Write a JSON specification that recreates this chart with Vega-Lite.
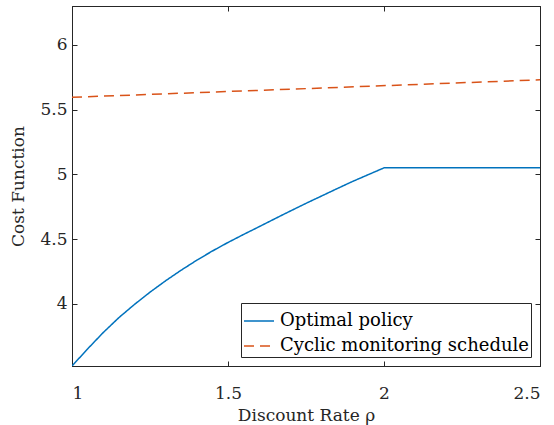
{
  "$schema": "https://vega.github.io/schema/vega-lite/v6.json",
  "width": 468,
  "height": 360,
  "autosize": {"type": "none"},
  "padding": {"left": 72, "top": 6, "right": 14, "bottom": 59},
  "background": "white",
  "config": {
    "view": {"stroke": "#262626", "strokeWidth": 1},
    "font": "DejaVu Serif",
    "axis": {
      "domainColor": "#262626",
      "tickColor": "#262626",
      "grid": false,
      "labelFont": "DejaVu Serif",
      "titleFont": "DejaVu Serif",
      "labelFontSize": 17,
      "titleFontSize": 17,
      "labelColor": "#262626",
      "titleColor": "#262626",
      "titleFontWeight": "normal",
      "tickSize": -5
    },
    "legend": {
      "labelFont": "DejaVu Serif",
      "labelFontSize": 18,
      "labelLimit": 0
    }
  },
  "datasets": {
    "opt": [
      {"rho": 1.0, "cost": 3.52, "series": "Optimal policy"},
      {"rho": 1.05, "cost": 3.652, "series": "Optimal policy"},
      {"rho": 1.1, "cost": 3.778, "series": "Optimal policy"},
      {"rho": 1.15, "cost": 3.893, "series": "Optimal policy"},
      {"rho": 1.2, "cost": 3.995, "series": "Optimal policy"},
      {"rho": 1.25, "cost": 4.09, "series": "Optimal policy"},
      {"rho": 1.3, "cost": 4.178, "series": "Optimal policy"},
      {"rho": 1.35, "cost": 4.26, "series": "Optimal policy"},
      {"rho": 1.4, "cost": 4.337, "series": "Optimal policy"},
      {"rho": 1.45, "cost": 4.408, "series": "Optimal policy"},
      {"rho": 1.5, "cost": 4.474, "series": "Optimal policy"},
      {"rho": 1.55, "cost": 4.536, "series": "Optimal policy"},
      {"rho": 1.6, "cost": 4.596, "series": "Optimal policy"},
      {"rho": 1.65, "cost": 4.657, "series": "Optimal policy"},
      {"rho": 1.7, "cost": 4.717, "series": "Optimal policy"},
      {"rho": 1.75, "cost": 4.776, "series": "Optimal policy"},
      {"rho": 1.8, "cost": 4.833, "series": "Optimal policy"},
      {"rho": 1.85, "cost": 4.89, "series": "Optimal policy"},
      {"rho": 1.9, "cost": 4.946, "series": "Optimal policy"},
      {"rho": 1.95, "cost": 4.998, "series": "Optimal policy"},
      {"rho": 2.0, "cost": 5.05, "series": "Optimal policy"},
      {"rho": 2.5, "cost": 5.05, "series": "Optimal policy"}
    ],
    "cyc": [
      {"rho": 1.0, "cost": 5.595, "series": "Cyclic monitoring schedule"},
      {"rho": 1.75, "cost": 5.662, "series": "Cyclic monitoring schedule"},
      {"rho": 2.5, "cost": 5.73, "series": "Cyclic monitoring schedule"}
    ]
  },
  "layer": [
    {
      "data": {"name": "opt"},
      "mark": {"type": "line", "strokeWidth": 1.5, "clip": true},
      "encoding": {
        "x": {"field": "rho", "type": "quantitative",
              "scale": {"domain": [1, 2.5], "nice": false, "zero": false},
              "axis": {"values": [1, 1.5, 2, 2.5], "labelExpr": "datum.value", "title": "Discount Rate ρ", "labelPadding": 24, "titlePadding": 6}},
        "y": {"field": "cost", "type": "quantitative",
              "scale": {"domain": [3.52, 6.3], "nice": false, "zero": false},
              "axis": {"values": [4, 4.5, 5, 5.5, 6], "labelExpr": "datum.value", "title": "Cost Function", "labelPadding": 10, "titlePadding": 12}},
        "color": {"field": "series", "type": "nominal",
                  "scale": {"domain": ["Optimal policy", "Cyclic monitoring schedule"], "range": ["#0072BD", "#D95319"]},
                  "legend": {"title": null, "orient": "bottom-right", "offset": 9, "symbolType": "stroke", "symbolSize": 900, "symbolStrokeWidth": 1.5,
                             "labelColor": "#000000",
                             "strokeColor": "#262626", "fillColor": "white", "padding": 2, "rowPadding": -4, "labelOffset": 5}},
        "strokeDash": {"field": "series", "type": "nominal",
                       "scale": {"domain": ["Optimal policy", "Cyclic monitoring schedule"], "range": [[1, 0], [10, 6]]},
                       "legend": {"title": null, "orient": "bottom-right", "offset": 9, "symbolType": "stroke", "symbolSize": 900, "symbolStrokeWidth": 1.5,
                             "labelColor": "#000000",
                             "strokeColor": "#262626", "fillColor": "white", "padding": 2, "rowPadding": -4, "labelOffset": 5}}
      }
    },
    {
      "data": {"name": "cyc"},
      "mark": {"type": "line", "strokeWidth": 1.5, "clip": true},
      "encoding": {
        "x": {"field": "rho", "type": "quantitative",
              "axis": {"orient": "top", "values": [1, 1.5, 2, 2.5], "labels": false, "title": null}},
        "y": {"field": "cost", "type": "quantitative",
              "axis": {"orient": "right", "values": [4, 4.5, 5, 5.5, 6], "labels": false, "title": null}},
        "color": {"field": "series", "type": "nominal"},
        "strokeDash": {"field": "series", "type": "nominal"}
      }
    }
  ],
  "resolve": {"axis": {"x": "independent", "y": "independent"}}
}
